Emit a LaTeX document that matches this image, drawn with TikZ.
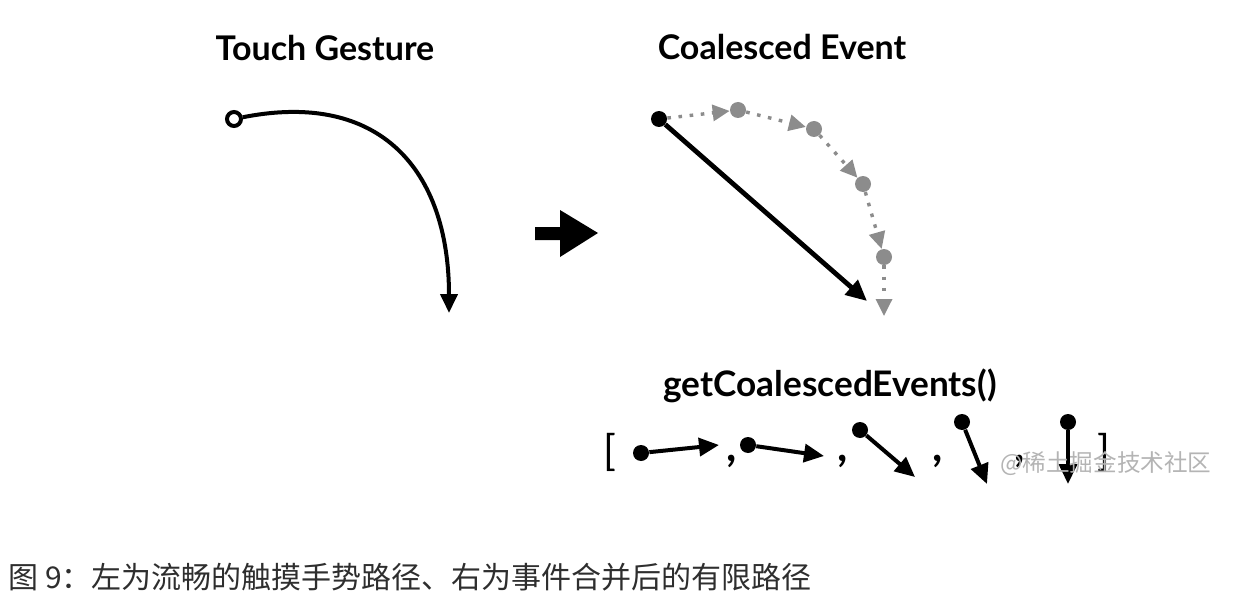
\documentclass[tikz,border=0pt]{standalone}
\usepackage{fontspec}
\setmainfont{Lato}
\newfontfamily\cjk{Noto Sans CJK SC}
\usetikzlibrary{arrows.meta}
\definecolor{dotgray}{HTML}{8C8C8C}
\definecolor{captxt}{HTML}{2E2E2E}
\definecolor{wmark}{HTML}{B4B4B4}
\begin{document}
\begin{tikzpicture}[x=0.5pt,y=-0.5pt,
  title/.style={font=\fontsize{17}{20}\selectfont\bfseries, inner sep=0pt},
  bdot/.style={circle, fill=black, inner sep=0pt, minimum size=8pt},
  gdot/.style={circle, fill=dotgray, inner sep=0pt, minimum size=8pt},
  odot/.style={circle, draw=black, fill=white, line width=2pt, inner sep=0pt, minimum size=7pt},
  blk/.style={line width=2pt, -{Triangle[length=9.5pt,width=8.5pt]}},
  gseg/.style={dotgray, line width=1.7pt, dash pattern=on 1.8pt off 3.8pt, -{Triangle[length=8.5pt,width=8pt]}},
  sarrow/.style={line width=2pt, -{Triangle[length=10pt,width=9pt]}},
  comma/.style={font=\fontsize{22}{22}\selectfont\bfseries, inner sep=0pt},
  brk/.style={font=\fontsize{21}{24}\selectfont, inner sep=0pt}
]
\useasboundingbox (0,0) rectangle (1242,610);

% titles
\node[title] (t1) at (325,48) {Touch Gesture};
\node[title] (t2) at (782,47) {Coalesced Event};

% touch gesture
\node[odot] (ts) at (234,119) {};
\coordinate (te) at (449,313);
\draw[blk] (ts) .. controls (380,90) and (449,170) .. (te);

% block arrow
\fill[black] (535,227) -- (560,227) -- (560,210) -- (598,233) -- (560,257) -- (560,240) -- (535,240) -- cycle;

% coalesced event
\node[gdot] (g1) at (738,110) {};
\node[gdot] (g2) at (814,129) {};
\node[gdot] (g3) at (863,184) {};
\node[gdot] (g4) at (884,257) {};
\coordinate (g5) at (884,316);
\node[bdot] (b0) at (659,119) {};
\draw[gseg] (b0) -- (g1);
\draw[gseg] (g1) -- (g2);
\draw[gseg] (g2) -- (g3);
\draw[gseg] (g3) -- (g4);
\draw[gseg] (g4) -- (g5);
\coordinate (be) at (867,301);
\draw[line width=2.4pt, -{Triangle[length=10.5pt,width=9.5pt]}] (b0) -- (be);

% getCoalescedEvents
\node[title, font=\fontsize{17.6}{20}\selectfont\bfseries] (code) at (830,386) {getCoalescedEvents()};

\node[brk] (lb) at (610,452) {[};
\node[bdot] (d1) at (641,453) {};
\coordinate (e1) at (719,445);
\draw[sarrow] (d1) -- (e1);
\node[comma] (c1) at (732,461) {,};
\node[bdot] (d2) at (748,445) {};
\coordinate (e2) at (824,456);
\draw[sarrow] (d2) -- (e2);
\node[comma] (c2) at (843,461) {,};
\node[bdot] (d3) at (860,430) {};
\coordinate (e3) at (915,477);
\draw[sarrow] (d3) -- (e3);
\node[comma] (c3) at (938,461) {,};
\node[bdot] (d4) at (962,422) {};
\coordinate (e4) at (987,484);
\draw[sarrow] (d4) -- (e4);
\node[comma] (c4) at (1020,461) {,};
\node[bdot] (d5) at (1068,422) {};
\coordinate (e5) at (1068,484);
\draw[sarrow] (d5) -- (e5);
\node[brk] (rb) at (1104,452) {]};

% watermark
\node[font=\cjk\fontsize{11.8}{14}\selectfont, text=wmark, inner sep=0pt, anchor=west] (wm) at (1000,464) {@稀土掘金技术社区};

% caption
\node[font=\cjk\fontsize{15}{18}\selectfont, text=captxt, inner sep=0pt, anchor=west] (cap) at (8,577) {图 9：左为流畅的触摸手势路径、右为事件合并后的有限路径};
\end{tikzpicture}
\end{document}
